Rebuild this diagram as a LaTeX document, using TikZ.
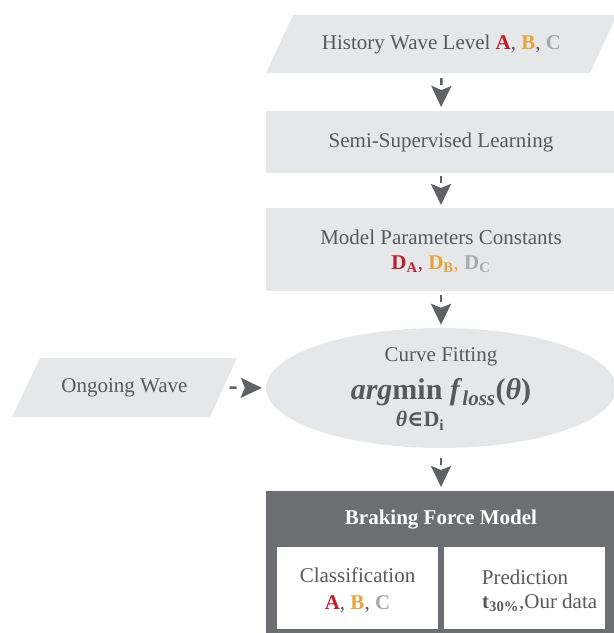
\documentclass[tikz,border=0pt]{standalone}
\usepackage{fontspec}
\setmainfont{Liberation Serif}
\newfontfamily\dvs{DejaVu Serif}
\usetikzlibrary{shapes.geometric,arrows.meta}
\definecolor{boxfill}{HTML}{E6E7E8}
\definecolor{txt}{HTML}{58595B}
\definecolor{darkbox}{HTML}{6D6E71}
\definecolor{arrowc}{HTML}{606165}
\definecolor{cA}{HTML}{BE1E2D}
\definecolor{cB}{HTML}{E8A33D}
\definecolor{cC}{HTML}{A7A9AC}
\newcommand{\myA}{\textcolor{cA}{\textbf{A}}}
\newcommand{\myB}{\textcolor{cB}{\textbf{B}}}
\newcommand{\myC}{\textcolor{cC}{\textbf{C}}}
\begin{document}
\begin{tikzpicture}[x=1pt,y=-1pt,
  font=\fontsize{21}{27}\selectfont, text=txt,
  box/.style={fill=boxfill, draw=none, minimum width=350pt, inner sep=0pt, anchor=north, align=center},
  flow/.style={draw=arrowc, line width=2.5pt, dash pattern=on 7pt off 40pt, -{Stealth[length=21pt,width=20pt,inset=4pt,sep=0pt]}},
  lbl/.style={inner sep=0pt}]
\useasboundingbox (0,0) rectangle (614,633);

% History wave parallelogram
\fill[boxfill] (266,73) -- (590,73) -- (617,15) -- (293,15) -- cycle;
\node[lbl, minimum width=300pt, minimum height=58pt] (hist) at (441.5,44) {History Wave Level \myA, \myB, \myC};

\node[box, minimum height=62pt] (ssl) at (441,111) {Semi-Supervised Learning};

\node[box, minimum height=83pt] (mpc) at (441,208) {};
\node[lbl] (mpct) at (441,237) {Model Parameters Constants};
\node[lbl] (mpcd) at (441,264) {\textcolor{cA}{\textbf{D\textsubscript{A}},} \textcolor{cB}{\textbf{D\textsubscript{B}},} \textcolor{cC}{\textbf{D\textsubscript{C}}}};

% Curve fitting ellipse
\node[ellipse, fill=boxfill, minimum width=350pt, minimum height=120pt, inner sep=0pt] (cf) at (441,388) {};
\node[lbl] (cft) at (441,357) {Curve Fitting};
\node[lbl] (argm) at (441,392) {\fontsize{30}{30}\selectfont\textbf{\textit{arg}min} \textbf{\textit{f}}\textsubscript{\textbf{\textit{loss}}}\textbf{(\textit{θ})}};
\node[lbl] (dom) at (420,421) {\fontsize{22}{22}\selectfont\textbf{\textit{θ}}{\dvs\bfseries ∈}\textbf{D\textsubscript{i}}};

% Ongoing wave parallelogram
\fill[boxfill] (12,417) -- (210,417) -- (237,358) -- (40,358) -- cycle;
\node[lbl, minimum width=180pt, minimum height=59pt] (ong) at (124.5,387.5) {Ongoing Wave};

% Braking force model
\node[fill=darkbox, minimum width=350pt, minimum height=150pt, anchor=north, inner sep=0pt] (bfm) at (441,491) {};
\node[lbl, text=white] (bft) at (441,520) {\textbf{Braking Force Model}};
\node[fill=white, minimum width=161pt, minimum height=82pt, anchor=north west, inner sep=0pt] (clsbox) at (277,547) {};
\node[lbl, align=center] (cls) at (357.5,590) {Classification\\ \myA, \myB, \myC};
\node[fill=white, minimum width=161pt, minimum height=82pt, anchor=north west, inner sep=0pt] (predbox) at (444,547) {};
\node[lbl] (predt) at (525,577) {Prediction};
\node[lbl, anchor=west] (predv) at (482,603) {\textbf{t\textsubscript{30\%}},Our data};

% connectors
\draw[flow, shorten <=5pt, shorten >=4pt] (hist.south) -- (ssl.north);
\draw[flow, shorten <=3pt, shorten >=3pt] (ssl.south) -- (mpc.north);
\draw[flow, shorten <=4pt, shorten >=3pt] (mpc.south) -- (cf.north);
\draw[flow, shorten <=10pt, shorten >=4pt] (cf.south) -- (bfm.north);
\draw[flow, shorten <=15pt, shorten >=4pt] (ong.east) -- (cf.west);
\end{tikzpicture}
\end{document}
